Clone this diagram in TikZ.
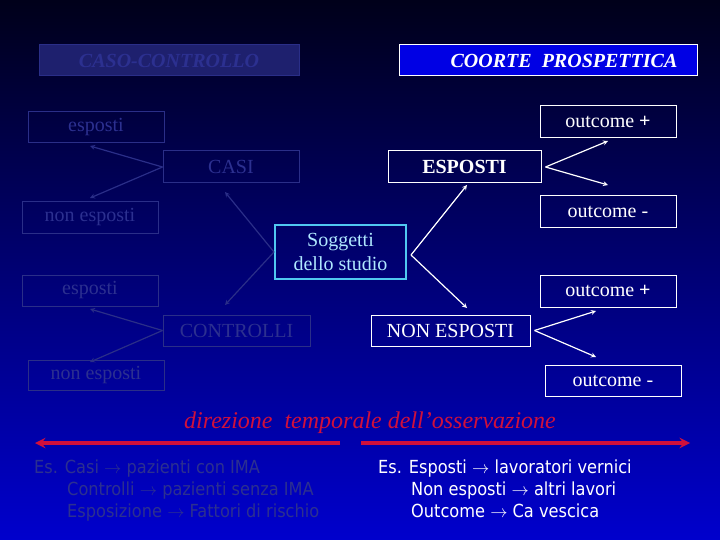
\documentclass[tikz,border=0pt]{standalone}
\usepackage{fontspec}
\setmainfont{Liberation Serif}
\newfontfamily\comic{DejaVu Sans Condensed}
\definecolor{dimtxt}{HTML}{2C3090}
\definecolor{dimline}{HTML}{2A2E88}
\definecolor{cya}{HTML}{50C8F0}
\definecolor{cyt}{HTML}{B0E8FF}
\definecolor{redd}{HTML}{D0103C}
\begin{document}
\begin{tikzpicture}[x=1pt,y=-1pt,
  dimbox/.style={draw=dimline,line width=1pt,text=dimtxt,font=\fontsize{20}{22}\selectfont,inner sep=0pt},
  brtbox/.style={draw=white,line width=1pt,text=white,font=\fontsize{20}{22}\selectfont,inner sep=0pt},
  dimarr/.style={draw=dimline,-stealth,line width=1.2pt},
  brtarr/.style={draw=white,-stealth,line width=1.2pt}]
\shade[top color=black!90!blue, bottom color={rgb,255:red,0;green,0;blue,205}] (0,0) rectangle (720,540);
\useasboundingbox (0,0) rectangle (720,540);
\def\bx#1#2#3#4#5#6#7{\node[#2,minimum width={#5-#3},minimum height={#6-#4}] (#1) at ({(#3+#5)/2},{(#4+#6)/2}) {#7};}
% headers
\node[draw=dimline,line width=1pt,fill={rgb,255:red,30;green,32;blue,110},text=dimtxt,inner sep=0pt,minimum width=260,minimum height=31,font=\fontsize{20}{22}\selectfont\itshape\bfseries] (cc) at (169,60.5) {CASO-CONTROLLO};
\node[draw=white,line width=1pt,fill={rgb,255:red,0;green,0;blue,228},text=white,inner sep=0pt,minimum width=298,minimum height=31,font=\fontsize{20}{22}\selectfont\itshape\bfseries] (cp) at (548,60.5) {\hspace*{32pt}COORTE\ \ PROSPETTICA};
% left
\bx{e1}{dimbox}{28}{112}{164}{143}{esposti}
\bx{casi}{dimbox}{163}{151}{299}{183}{CASI}
\bx{n1}{dimbox}{22}{202}{158}{233}{non esposti}
\bx{e2}{dimbox}{22}{275}{158}{306}{esposti}
\bx{contr}{dimbox}{163}{315}{310}{346}{CONTROLLI}
\bx{n2}{dimbox}{28}{360}{164}{390}{non esposti}
% center
\node[draw=cya,line width=2pt,text=cyt,align=center,inner sep=0pt,minimum width=131,minimum height=54,font=\fontsize{20}{24}\selectfont] (sog) at (340.5,252) {Soggetti\\dello studio};
% right
\bx{op1}{brtbox}{540}{106}{676}{138}{outcome \textbf{+}}
\bx{esp}{brtbox}{388}{151}{541}{183}{\textbf{ESPOSTI}}
\bx{om1}{brtbox}{540}{196}{676}{228}{outcome -}
\bx{op2}{brtbox}{540}{275}{676}{307}{outcome \textbf{+}}
\bx{nesp}{brtbox}{371}{315}{530}{346}{NON ESPOSTI}
\bx{om2}{brtbox}{545}{365}{681}{396}{outcome -}
% arrows
\coordinate (t1) at (225,192); \coordinate (t2) at (225,305);
\draw[dimarr] (sog.west) -- (t1);
\draw[dimarr] (sog.west) -- (t2);
\coordinate (c1) at (90,146); \coordinate (c2) at (90,198);
\draw[dimarr] (casi.west) -- (c1);
\draw[dimarr] (casi.west) -- (c2);
\coordinate (d1) at (90,309); \coordinate (d2) at (90,362);
\draw[dimarr] (contr.west) -- (d1);
\draw[dimarr] (contr.west) -- (d2);
\coordinate (r1) at (467,185); \coordinate (r2) at (467,308);
\draw[brtarr] ([yshift=-3pt]sog.east) ++(4,0) -- (r1);
\draw[brtarr] ([yshift=-3pt]sog.east) ++(4,0) -- (r2);
\coordinate (s1) at (608,141); \coordinate (s2) at (608,185);
\draw[brtarr] ([xshift=4pt]esp.east) -- (s1);
\draw[brtarr] ([xshift=4pt]esp.east) -- (s2);
\coordinate (u1) at (596,311); \coordinate (u2) at (596,357);
\draw[brtarr] ([xshift=4pt]nesp.east) -- (u1);
\draw[brtarr] ([xshift=4pt]nesp.east) -- (u2);
% bottom
\node[text=redd,font=\fontsize{24}{26}\selectfont\itshape] (dir) at (370,423) {direzione\ \ temporale dell’osservazione};
\coordinate (a0) at (340,443); \coordinate (a1) at (35,443);
\coordinate (b0) at (361,443); \coordinate (b1) at (690,443);
\draw[redd,line width=3.5pt,-stealth] (a0) -- (a1);
\draw[redd,line width=3.5pt,-stealth] (b0) -- (b1);
\node[text=dimtxt,anchor=north west,align=left,font=\comic\fontsize{18}{22}\selectfont,inner sep=0pt] (exl) at (34,460) {Es. Casi $\rightarrow$ pazienti con IMA\\\hspace*{33pt}Controlli $\rightarrow$ pazienti senza IMA\\\hspace*{33pt}Esposizione $\rightarrow$ Fattori di rischio};
\node[text=white,anchor=north west,align=left,font=\comic\fontsize{18}{22}\selectfont,inner sep=0pt] (exr) at (378,460) {Es. Esposti $\rightarrow$ lavoratori vernici\\\hspace*{33pt}Non esposti $\rightarrow$ altri lavori\\\hspace*{33pt}Outcome $\rightarrow$ Ca vescica};
\end{tikzpicture}
\end{document}
